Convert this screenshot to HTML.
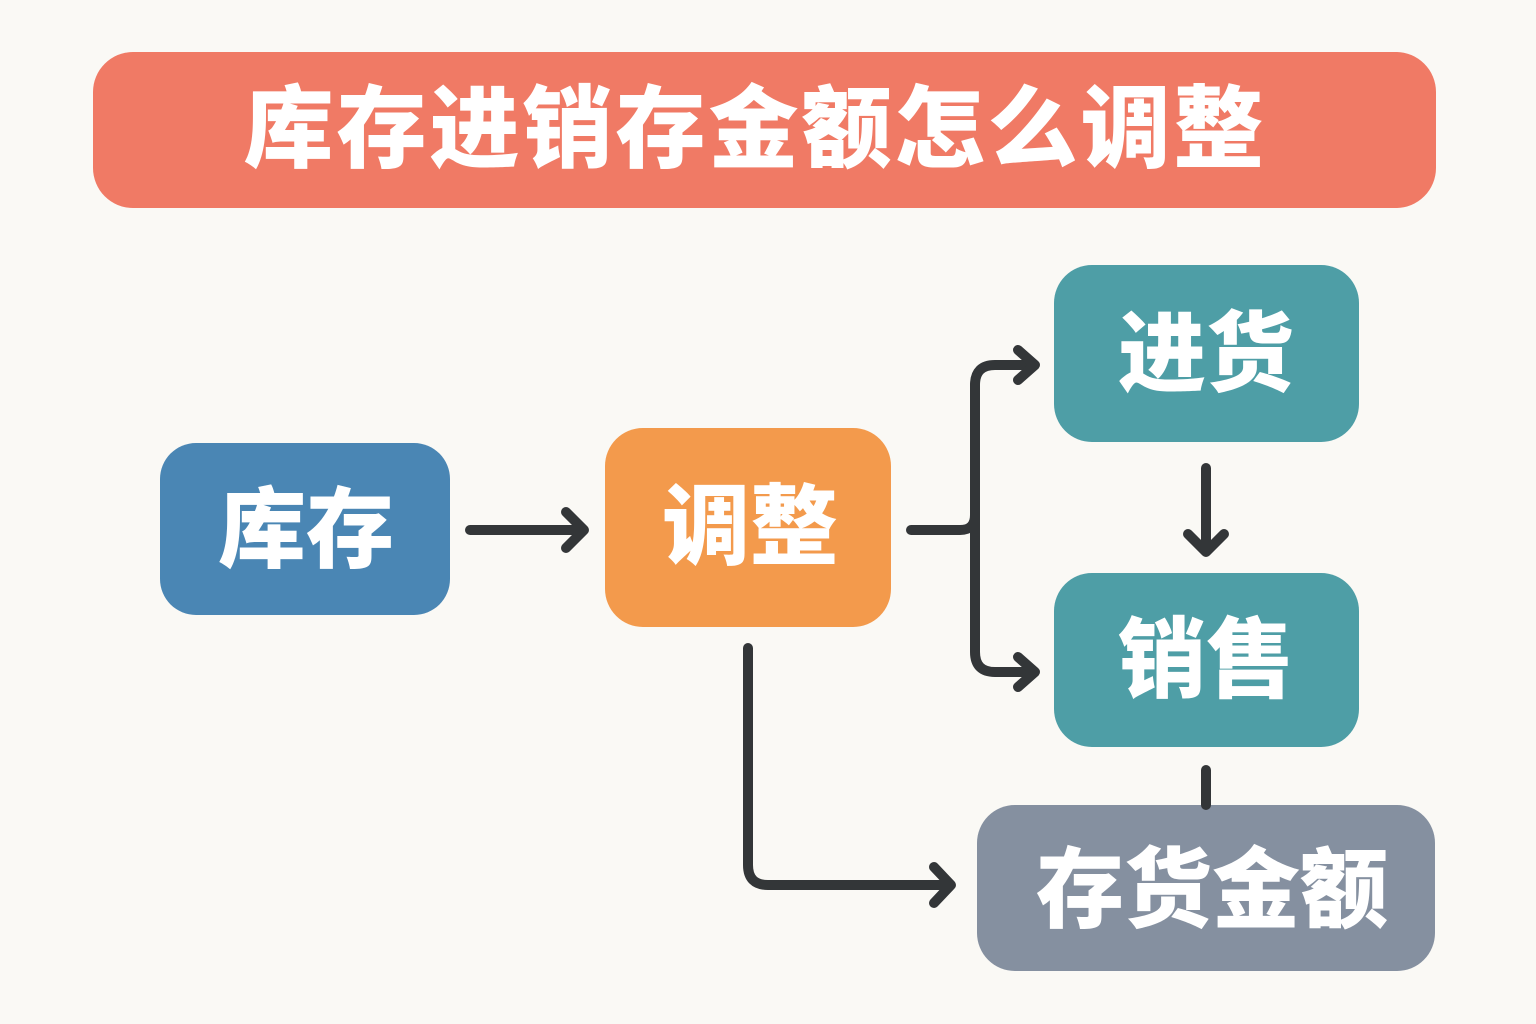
<!DOCTYPE html>
<html><head><meta charset="utf-8"><style>
html,body{margin:0;padding:0;background:#faf9f5;}
svg{display:block}
text{font-family:"Liberation Sans","Noto Sans CJK SC",sans-serif;font-weight:900;fill:#fff;text-anchor:middle;dominant-baseline:central}
</style></head><body>
<svg width="1536" height="1024" viewBox="0 0 1536 1024">
<rect width="1536" height="1024" fill="#faf9f5"/>
<rect x="93" y="52" width="1343" height="156" rx="40" fill="#f07a65"/>
<text x="755" y="130" font-size="90" letter-spacing="3">库存进销存金额怎么调整</text>

<rect x="160" y="443" width="290" height="172" rx="36" fill="#4a86b4"/>
<text x="306" y="530" font-size="88">库存</text>

<rect x="605" y="428" width="286" height="199" rx="38" fill="#f39a4c"/>
<text x="750" y="527" font-size="88">调整</text>

<rect x="1054" y="265" width="305" height="177" rx="38" fill="#4e9ea6"/>
<text x="1206" y="354" font-size="88">进货</text>

<rect x="1054" y="573" width="305" height="174" rx="38" fill="#4e9ea6"/>
<text x="1206" y="660" font-size="88">销售</text>

<rect x="977" y="805" width="458" height="166" rx="38" fill="#8590a0"/>
<text x="1212" y="890" font-size="88">存货金额</text>

<g fill="none" stroke="#333638" stroke-width="10" stroke-linecap="round" stroke-linejoin="round">
<path d="M470 530 H582"/><path d="M566 512 L584 530 L566 548"/>
<path d="M911 530 H960 Q975 530 975 515"/>
<path d="M975 385 Q975 365 995 365 H1034"/>
<path d="M975 385 V652 Q975 672 995 672 H1034"/>
<path d="M1018 350 L1035 365 L1018 380"/><path d="M1018 657 L1035 672 L1018 687"/>
<path d="M1206 468 V550"/><path d="M1188 534 L1206 552 L1224 534"/>
<path d="M1206 770 V805"/>
<path d="M748 648 V865 Q748 885 768 885 H948"/><path d="M934 867 L951 885 L934 903"/>
</g>
</svg>
</body></html>
